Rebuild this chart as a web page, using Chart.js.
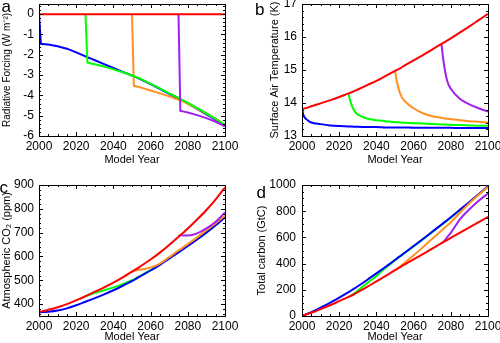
<!DOCTYPE html>
<html><head><meta charset="utf-8">
<script src="https://cdn.jsdelivr.net/npm/chart.js@4"></script>
<style>
html,body{margin:0;padding:0;background:#fff;}
#wrap{position:relative;width:500px;height:343px;overflow:hidden;}
.p{position:absolute;}
</style></head><body>
<div id="wrap">
<div class="p" style="left:0;top:0;width:250px;height:171px"><canvas id="ca"></canvas></div>
<div class="p" style="left:250px;top:0;width:250px;height:171px"><canvas id="cb"></canvas></div>
<div class="p" style="left:0;top:171px;width:250px;height:172px"><canvas id="cc"></canvas></div>
<div class="p" style="left:250px;top:171px;width:250px;height:172px"><canvas id="cd"></canvas></div>
</div>
<script>
// ---------- data ----------
const years = [2000,2001,2003,2005,2010,2015,2020,2025,2026,2028,2030,2035,2040,2045,2050,2051,2053,2055,2060,2065,2070,2075,2076,2078,2080,2085,2090,2095,2100];
const N7 = [null,null,null,null,null,null,null];
const N14 = N7.concat(N7);
const N21 = N14.concat(N7);

// panel a: Radiative forcing
const aRed = years.map(() => 0);
const aBlue = [0,-1.46,-1.48,-1.5,-1.58,-1.7,-1.88,-2.08,-2.12,-2.19,-2.27,-2.46,-2.65,-2.84,-3.02,-3.06,-3.14,-3.22,-3.45,-3.68,-3.92,-4.14,-4.19,-4.29,-4.4,-4.66,-4.93,-5.2,-5.52];
const aGreen = N7.concat([0,-2.38,-2.43,-2.47,-2.58,-2.72,-2.86,-3.02,-3.05,-3.12,-3.2,-3.43,-3.66,-3.9,-4.12,-4.17,-4.27,-4.37,-4.62,-4.88,-5.15,-5.45]);
const aOrange = N14.concat([0,-3.53,-3.57,-3.62,-3.76,-3.9,-4.05,-4.22,-4.25,-4.32,-4.42,-4.65,-4.9,-5.16,-5.45]);
const aPurple = N21.concat([0,-4.76,-4.8,-4.84,-4.97,-5.12,-5.3,-5.52]);

// panel b: Surface air temperature
const bRed = [13.81,13.83,13.86,13.9,13.99,14.08,14.18,14.29,14.31,14.36,14.41,14.54,14.67,14.82,14.97,15.0,15.06,15.13,15.29,15.45,15.62,15.79,15.82,15.89,15.96,16.14,16.32,16.51,16.7];
const bBlue = [13.8,13.6,13.48,13.41,13.36,13.32,13.3,13.29,13.29,13.28,13.28,13.27,13.27,13.26,13.26,13.26,13.26,13.26,13.25,13.25,13.25,13.25,13.25,13.25,13.25,13.24,13.24,13.24,13.24];
const bGreen = N7.concat([14.29,14.05,13.77,13.65,13.53,13.48,13.45,13.42,13.42,13.41,13.4,13.39,13.38,13.36,13.35,13.35,13.34,13.34,13.33,13.32,13.31,13.31]);
const bOrange = N14.concat([14.97,14.65,14.25,14.07,13.84,13.69,13.6,13.55,13.54,13.52,13.51,13.48,13.45,13.43,13.41]);
const bPurple = N21.concat([15.79,15.3,14.68,14.43,14.12,13.96,13.84,13.74]);

// panel c: Atmospheric CO2
const cRed = [367,369,372,376,387,400,416,433,437,444,452,470,490,512,536,541,551,561,587,616,648,683,690,703,717,755,795,840,890];
const cBlue = [365,366,367,368,373,382,395,410,413,419,425,441,458,477,497,501,510,519,541,565,591,617,622,633,644,671,700,731,765];
const cGreen = N7.concat([433,436,441,447,458,470,484,500,503,512,521,543,567,594,620,625,636,647,674,703,734,768]);
const cOrange = N14.concat([536,540,543,545,553,570,597,625,630,641,652,680,710,740,772]);
const cPurple = N21.concat([683,689,688,688,697,718,746,785]);

// panel d: Total carbon
const dRed = [0,5,15,25,52,82,114,146,152,166,182,222,264,306,350,358,375,392,432,473,515,556,564,580,596,637,677,717,757];
const dBlue = [0,6,18,30,64,100,140,182,191,209,227,275,325,376,428,439,460,481,534,588,643,698,709,731,754,812,870,930,990];
const dGreen = N7.concat([146,152,172,195,250,306,368,425,436,457,478,531,585,640,695,706,728,751,809,867,927,987]);
const dOrange = N14.concat([350,358,380,405,462,525,590,652,665,690,716,790,860,925,985]);
const dPurple = N21.concat([556,564,600,635,740,815,880,935]);

// tick labels
const xTicks = [2000,2020,2040,2060,2080,2100];
const aYTicks = [-6,-5,-4,-3,-2,-1,0];
const bYTicks = [13,14,15,16,17];
const cYTicks = [400,500,600,700,800,900];
const dYTicks = [0,200,400,600,800,1000];

// ---------- styling ----------
const FONT = "'Liberation Sans', Arial, Helvetica, sans-serif";
Chart.defaults.font.family = FONT;
Chart.defaults.color = '#000';
const COL = {red:'#ff0000', blue:'#0000ff', green:'#00ff00', orange:'#ff9020', purple:'#a020f0'};

const framePlugin = {
  id: 'frame',
  afterDatasetsDraw(chart, args, o) {
    const {ctx, chartArea: a, scales: {x, y}} = chart;
    ctx.save();
    ctx.strokeStyle = '#000';
    ctx.lineWidth = 1;
    ctx.strokeRect(a.left + 0.5, a.top + 0.5, a.right - a.left, a.bottom - a.top);
    const drawTicks = (scale, majorStep, nMinor, horiz) => {
      const step = majorStep / nMinor;
      const k0 = Math.ceil(scale.min / step - 1e-6), k1 = Math.floor(scale.max / step + 1e-6);
      ctx.beginPath();
      for (let k = k0; k <= k1; k++) {
        const v = k * step;
        const isMajor = Math.abs(v / majorStep - Math.round(v / majorStep)) < 1e-6;
        const len = isMajor ? 4 : 2;
        const p = Math.round(scale.getPixelForValue(v)) + 0.5;
        if (horiz) {
          ctx.moveTo(p, a.bottom); ctx.lineTo(p, a.bottom - len);
          ctx.moveTo(p, a.top); ctx.lineTo(p, a.top + len);
        } else {
          ctx.moveTo(a.left, p); ctx.lineTo(a.left + len, p);
          ctx.moveTo(a.right, p); ctx.lineTo(a.right - len, p);
        }
      }
      ctx.stroke();
    };
    drawTicks(x, o.xMajor, o.xMinor, true);
    drawTicks(y, o.yMajor, o.yMinor, false);
    ctx.restore();
  },
  afterDraw(chart, args, o) {
    const ctx = chart.ctx;
    ctx.save();
    ctx.fillStyle = '#000';
    ctx.font = '17px ' + FONT;
    ctx.textBaseline = 'alphabetic';
    ctx.fillText(o.letter, o.lx, o.ly);
    ctx.restore();
  }
};

function series(vals) {
  const out = [];
  vals.forEach((v, i) => { if (v !== null) out.push({x: years[i], y: v}); });
  return out;
}

function makePanel(id, cfg) {
  const mk = (vals, color, order) => ({
    data: series(vals), borderColor: color, borderWidth: 2, pointRadius: 0,
    fill: false, order: order, tension: 0,
    cubicInterpolationMode: cfg.monotone ? 'monotone' : 'default'
  });
  const sets = cfg.sets.map(s => mk(s[0], s[1], s[2]));
  return new Chart(document.getElementById(id), {
    type: 'line',
    data: {datasets: sets},
    options: {
      responsive: true, maintainAspectRatio: false, animation: false, events: [],
      layout: {padding: cfg.pad},
      plugins: {legend: {display: false}, tooltip: {enabled: false},
        frame: {letter: cfg.letter, lx: cfg.lx, ly: cfg.ly, xMajor: 20, xMinor: 4, yMajor: cfg.yMajor, yMinor: cfg.yMinor}},
      scales: {
        x: {
          type: 'linear', min: 2000, max: 2100,
          grid: {display: false, drawTicks: false}, border: {display: false},
          afterBuildTicks: s => { s.ticks = xTicks.map(v => ({value: v})); },
          afterFit: s => { s.height = cfg.xH; s.paddingLeft = 0; s.paddingRight = 0; },
          ticks: {autoSkip: false, maxRotation: 0, padding: 3, font: {size: 12}, color: '#000', callback: v => String(v)},
          title: {display: true, text: 'Model Year', font: {size: 11, lineHeight: 1}, color: '#000', padding: {top: 0, bottom: cfg.xTitlePad}}
        },
        y: {
          type: 'linear', min: cfg.yMin, max: cfg.yMax,
          grid: {display: false, drawTicks: false}, border: {display: false},
          afterBuildTicks: s => { s.ticks = cfg.yTicks.map(v => ({value: v})); },
          afterFit: s => { s.width = cfg.yW; s.paddingTop = 0; s.paddingBottom = 0; },
          ticks: {padding: cfg.yTickPad, font: {size: 12}, color: '#000', callback: v => String(v)},
          title: {display: true, text: cfg.yTitle, font: {size: cfg.yTitleSize || 11, lineHeight: 1.2}, color: '#000', padding: {top: cfg.yTitlePad, bottom: 0}}
        }
      }
    },
    plugins: [framePlugin]
  });
}

makePanel('ca', {
  letter: 'a', lx: 1.5, ly: 12,
  pad: {left: 0, right: 25, top: 4, bottom: 0}, xH: 35, yW: 39,
  yMin: -6, yMax: 0.5, yTicks: aYTicks, yMajor: 1, yMinor: 5,
  yTitle: 'Radiative Forcing (W m\u207B\u00B2)', yTitleSize: 10, yTitlePad: 1.5, yTickPad: 5, xTitlePad: 6,
  sets: [[aRed, COL.red, 0], [aPurple, COL.purple, 1], [aGreen, COL.green, 2], [aOrange, COL.orange, 3], [aBlue, COL.blue, 4]]
});
makePanel('cb', {
  letter: 'b', lx: 5, ly: 15, monotone: true,
  pad: {left: 0, right: 12, top: 4, bottom: 0}, xH: 35, yW: 52,
  yMin: 13, yMax: 17, yTicks: bYTicks, yMajor: 1, yMinor: 5,
  yTitle: 'Surface Air Temperature (K)', yTitlePad: 18, yTickPad: 5, xTitlePad: 6,
  sets: [[bRed, COL.red, 0], [bPurple, COL.purple, 1], [bOrange, COL.orange, 2], [bGreen, COL.green, 3], [bBlue, COL.blue, 4]]
});
makePanel('cc', {
  letter: 'c', lx: -0.5, ly: 22, monotone: true,
  pad: {left: 0, right: 25, top: 14, bottom: 0}, xH: 27, yW: 39,
  yMin: 350, yMax: 900, yTicks: cYTicks, yMajor: 100, yMinor: 5,
  yTitle: 'Atmospheric CO\u2082 (ppm)', yTitlePad: 0.5, yTickPad: 5, xTitlePad: 0.5,
  sets: [[cRed, COL.red, 0], [cPurple, COL.purple, 1], [cOrange, COL.orange, 2], [cBlue, COL.blue, 3], [cGreen, COL.green, 4]]
});
makePanel('cd', {
  letter: 'd', lx: 6.5, ly: 27, monotone: true,
  pad: {left: 0, right: 12, top: 14, bottom: 0}, xH: 27, yW: 52,
  yMin: 0, yMax: 1000, yTicks: dYTicks, yMajor: 200, yMinor: 4,
  yTitle: 'Total carbon (GtC)', yTitlePad: 5, yTickPad: 6, xTitlePad: 0.5,
  sets: [[dRed, COL.red, 0], [dPurple, COL.purple, 1], [dOrange, COL.orange, 2], [dBlue, COL.blue, 3], [dGreen, COL.green, 4]]
});
</script>
</body></html>
